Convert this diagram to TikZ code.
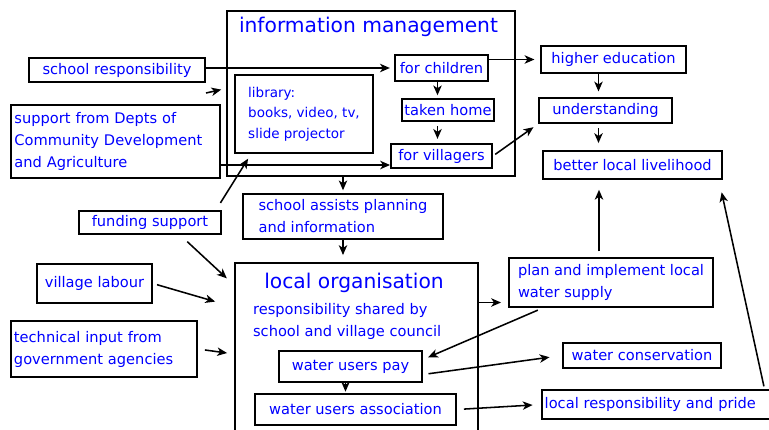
\documentclass[tikz,border=0pt]{standalone}
\usepackage{fontspec}
\setmainfont{DejaVu Sans}
\usetikzlibrary{shapes.geometric, arrows.meta}

\tikzstyle{box} = [rectangle, draw=black, line width=1.3pt, text=blue, inner sep=2pt, font=\fontsize{10.4}{15.6}\selectfont]
\tikzstyle{bigbox} = [rectangle, draw=black, line width=1.3pt]
\tikzstyle{heading} = [text=blue, inner sep=1pt, font=\fontsize{14.4}{17}\selectfont]
\tikzstyle{plaintext} = [text=blue, inner sep=2pt, font=\fontsize{10.4}{15.6}\selectfont]
\tikzstyle{arrow} = [line width=1.1pt,->,>={Stealth[length=7pt,width=6pt,inset=2pt]}]

\begin{document}
\begin{tikzpicture}[x=0.025cm, y=-0.025cm]
\clip (0,0) rectangle (769,429);

% Frames - information management and local organisation
\node[bigbox, minimum width=7.2cm, minimum height=4.125cm] (info) at (371,93.5) {};
\node[heading] (infoTitle) at (368.5,27) {information management};
\node[bigbox, minimum width=6.075cm, minimum height=4.55cm] (localOrg) at (356.5,354) {};
\node[heading] (localTitle) at (354,283) {local organisation};
\node[plaintext, align=left, anchor=west] (localText) at (250,321) {responsibility shared by\\school and village council};

% Column 1 - Inputs
\node[box, minimum width=4.4cm, minimum height=0.6cm] (schoolResp) at (117,70) {school responsibility};
\node[box, minimum width=5.225cm, minimum height=1.825cm, text width=5.05cm, align=left] (supportDept) at (115.5,141.5) {support from Depts of\\Community Development\\and Agriculture};
\node[box, minimum width=3.55cm, minimum height=0.575cm] (fundingSupport) at (150,222.5) {funding support};
\node[box, minimum width=2.875cm, minimum height=0.975cm] (villageLabour) at (94.5,283.5) {village labour};
\node[box, minimum width=4.65cm, minimum height=1.4cm, text width=4.5cm, align=left] (technicalInput) at (104,349) {technical input from\\government agencies};

% Column 2 - Information management and local organisation
\node[box, minimum width=3.45cm, minimum height=1.95cm, align=left, font=\fontsize{9.6}{14.6}\selectfont] (library) at (304,114) {library:\\books, video, tv,\\slide projector};
\node[box, minimum width=2.325cm, minimum height=0.65cm] (forChildren) at (441.5,68) {for children};
\node[box, minimum width=2.25cm, minimum height=0.55cm] (takenHome) at (448,110) {taken home};
\node[box, minimum width=2.525cm, minimum height=0.6cm] (forVillagers) at (441.5,156) {for villagers};
\node[box, minimum width=5cm, minimum height=1.125cm, align=left] (schoolAssists) at (343,216.5) {school assists planning\\and information};
\node[box, minimum width=3.575cm, minimum height=0.775cm] (waterUsersPay) at (350.5,366.5) {water users pay};
\node[box, minimum width=5.025cm, minimum height=0.775cm] (waterUsersAssoc) at (355.5,409.5) {water users association};

% Column 3 - Outcomes
\node[box, minimum width=3.625cm, minimum height=0.675cm] (higherEd) at (613.5,59.5) {higher education};
\node[box, minimum width=3.325cm, minimum height=0.625cm] (understanding) at (605.5,110.5) {understanding};
\node[box, minimum width=4.475cm, minimum height=0.7cm] (betterLivelihood) at (632.5,165) {better local livelihood};
\node[box, minimum width=5.1cm, minimum height=1.225cm, align=left] (planImplement) at (611,282.5) {plan and implement local\\water supply};
\node[box, minimum width=3.95cm, minimum height=0.625cm] (waterConservation) at (642,355.5) {water conservation};
\node[box, anchor=west, minimum height=0.725cm, text width=5.9cm, align=left] (localResp) at (541,404.5) {local responsibility and pride};

% Column 1 - Arrows
\coordinate (stub) at (206,93);
\coordinate (villIn) at ([yshift=-0.225cm]forVillagers.west);
\draw [arrow, shorten >=3pt] (schoolResp.east |- forChildren.west) -- (forChildren.west);
\draw [arrow, shorten >=3.5pt] (stub) -- ([yshift=0.125cm]info.west);
\draw [arrow] (supportDept.east |- villIn) -- (villIn);
\draw [arrow, shorten <=6pt, shorten >=4pt] ([xshift=-0.15cm]fundingSupport.north east) -- ([xshift=0.425cm]library.south west);
\draw [arrow, shorten <=7pt, shorten >=7pt] ([xshift=0.75cm]fundingSupport.south) -- ([yshift=-0.575cm]localOrg.north west);
\draw [arrow, shorten <=3pt, shorten >=14pt] (villageLabour.east) -- ([yshift=-1.125cm]localOrg.north west);
\draw [arrow, shorten <=5pt, shorten >=5pt] (technicalInput.east) -- (localOrg.west);

% Column 2 - Arrows
\coordinate (colA) at ([xshift=-0.1cm]forChildren.south);
\draw [arrow, shorten >=2pt] (colA) -- (colA |- takenHome.north);
\draw [arrow, shorten <=3pt, shorten >=3pt] (colA |- takenHome.south) -- (colA |- forVillagers.north);
\draw [arrow, shorten >=2pt] (info.south -| schoolAssists.north) -- (schoolAssists.north);
\draw [arrow, shorten >=5pt] (schoolAssists.south) -- (schoolAssists.south |- localOrg.north);
\coordinate (colD) at ([xshift=-0.125cm]waterUsersPay.south);
\draw [arrow, shorten >=1pt] (colD) -- (colD |- waterUsersAssoc.north);

% Column 3 - Arrows
\draw [arrow, shorten >=4pt] (forChildren.east |- higherEd.west) -- (higherEd.west);
\draw [arrow, shorten <=2pt, shorten >=4pt] (forVillagers.east) -- (understanding.south west);
\coordinate (colB) at ([xshift=-0.375cm]higherEd.south);
\draw [arrow, shorten >=4pt] (colB) -- (colB |- understanding.north);
\draw [arrow, shorten <=3pt, shorten >=5pt] (colB |- understanding.south) -- (colB |- betterLivelihood.north);
\coordinate (planIn) at ([yshift=-0.5cm]planImplement.west);
\draw [arrow, shorten >=5pt] (localOrg.east |- planIn) -- (planIn);
\coordinate (colC) at ([xshift=-0.3cm]planImplement.north);
\draw [arrow, shorten <=4pt, shorten >=7pt] (colC) -- (colC |- betterLivelihood.south);
\draw [arrow, shorten <=4pt, shorten >=4pt] ([xshift=-1.7cm]planImplement.south) -- ([yshift=0.175cm]waterUsersPay.east);
\draw [arrow, shorten <=4pt, shorten >=9pt] ([yshift=-0.2cm]waterUsersPay.east) -- (waterConservation.west);
\draw [arrow, shorten <=5pt, shorten >=6pt] (waterUsersAssoc.east) -- (localResp.west);
\draw [arrow, shorten <=2pt, shorten >=9pt] ([xshift=-0.5cm]localResp.north east) -- ([xshift=-0.1cm]betterLivelihood.south east);

\end{tikzpicture}
\end{document}
